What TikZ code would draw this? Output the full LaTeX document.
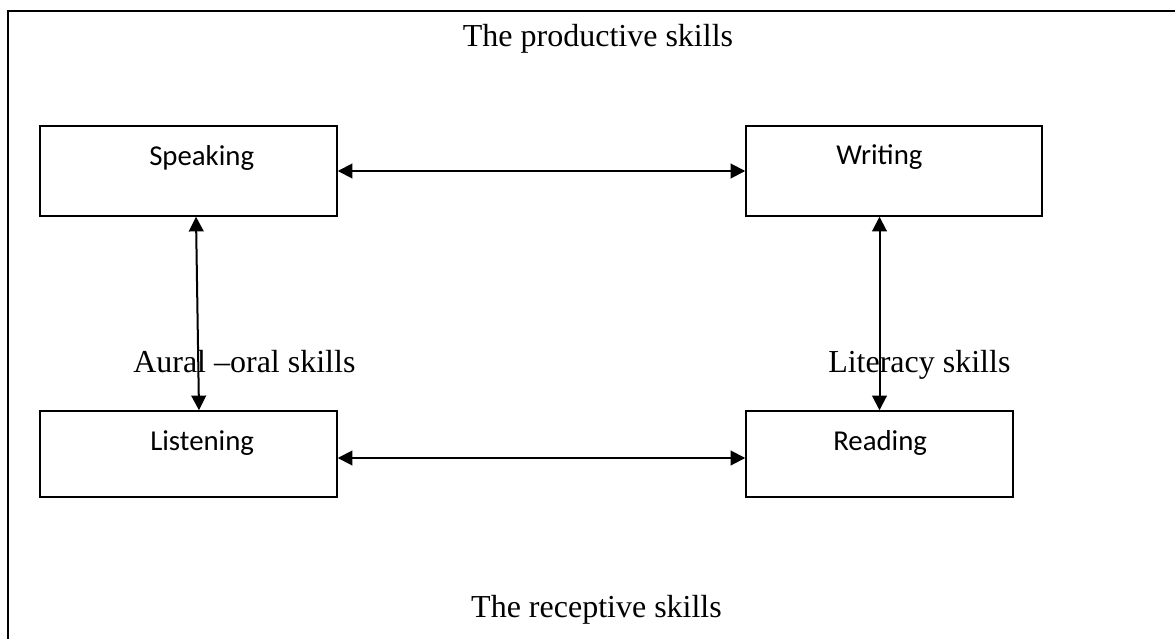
\documentclass[tikz,border=0pt]{standalone}
\usepackage{fontspec}
\setmainfont{Liberation Serif}
\newfontfamily\boxfont{Carlito}
\usetikzlibrary{arrows.meta}
\tikzset{
  skillbox/.style={draw, line width=1.1pt, rectangle, inner sep=0pt},
  boxtext/.style={font=\boxfont\fontsize{21.6pt}{26pt}\selectfont, inner sep=0pt, anchor=base west},
  lbl/.style={font=\fontsize{24pt}{28pt}\selectfont, inner sep=0pt},
  arr/.style={line width=1.5pt, {Triangle[length=11pt,width=11pt]}-{Triangle[length=11pt,width=11pt]}},
  frame/.style={line width=1.5pt}
}
\begin{document}
\begin{tikzpicture}[x=0.75pt,y=-0.75pt]
\useasboundingbox (0,0) rectangle (1175,639);
\coordinate (fa) at (8,639);
\coordinate (fb) at (8,11);
\coordinate (fc) at (1176,11);
\draw[frame] (fa) -- (fb) -- (fc);
\node[skillbox, minimum width=222.75pt, minimum height=67.5pt] (s) at (188.5,171) {};
\node[skillbox, minimum width=222pt, minimum height=67.5pt] (w) at (894,171) {};
\node[skillbox, minimum width=222.75pt, minimum height=64.5pt] (l) at (188.5,454) {};
\node[skillbox, minimum width=200.25pt, minimum height=64.5pt] (r) at (879.5,454) {};
\node[boxtext] (st) at (149,165) {Speaking};
\node[boxtext] (wt) at (836,164) {Writing};
\node[boxtext] (lt) at (150,450) {Listening};
\node[boxtext] (rt) at (833,450) {Reading};
\node[lbl, anchor=base] (top) at (598,46) {The productive skills};
\node[lbl, anchor=base] (bot) at (596.5,617) {The receptive skills};
\node[lbl, anchor=base west] (aural) at (133,372) {Aural –oral skills};
\node[lbl, anchor=base west] (lit) at (828,372) {Literacy skills};
\coordinate (sx) at (196,0);
\coordinate (lx) at (199,0);
\draw[arr] (s.east) -- (w.west);
\draw[arr] ([yshift=-3pt]l.east) -- ([yshift=-3pt]r.west);
\draw[arr] (s.south -| sx) -- (l.north -| lx);
\draw[arr] (w.south -| r.north) -- (r.north);
\end{tikzpicture}
\end{document}
